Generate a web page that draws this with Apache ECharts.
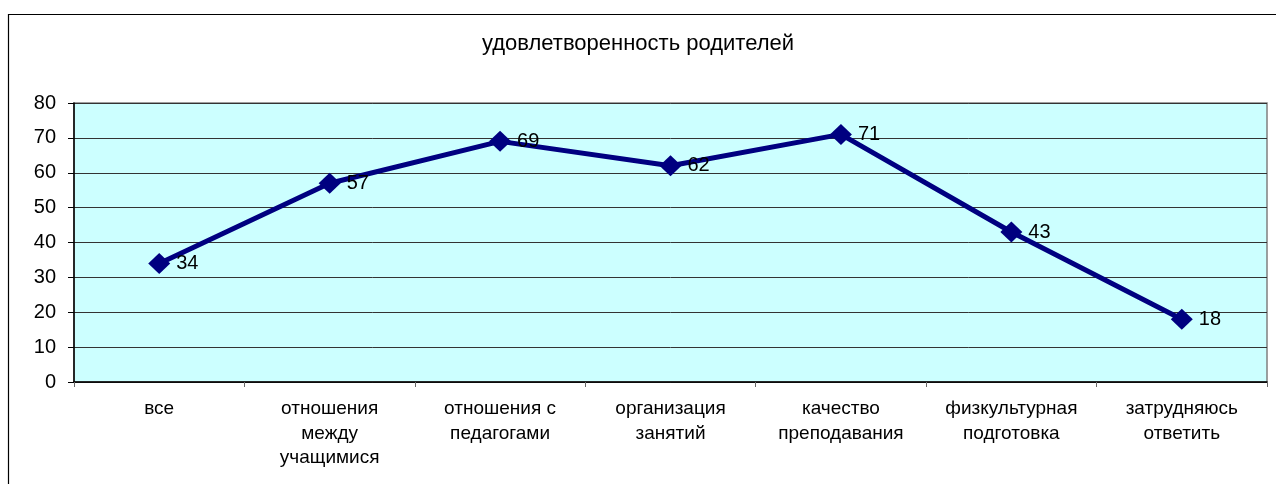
<!DOCTYPE html>
<html><head><meta charset="utf-8">
<script src="https://cdn.jsdelivr.net/npm/echarts@6/dist/echarts.min.js"></script>
<style>html,body{margin:0;padding:0;background:#fff;}#c{width:1276px;height:484px;}</style>
</head><body><div id="c"></div>
<script>
const titleText = 'удовлетворенность родителей';
const categories = ['все', 'отношения\nмежду\nучащимися', 'отношения с\nпедагогами', 'организация\nзанятий', 'качество\nпреподавания', 'физкультурная\nподготовка', 'затрудняюсь\nответить'];
const values = [34, 57, 69, 62, 71, 43, 18];
const yMin = 0, yMax = 80, yStep = 10;

const chart = echarts.init(document.getElementById('c'), null, {renderer: 'canvas'});
const font = 'Arial, "Liberation Sans", sans-serif';
chart.setOption({
  animation: false,
  backgroundColor: '#fff',
  title: {
    text: titleText, left: 'center', top: 28,
    textStyle: {fontFamily: font, fontSize: 22, fontWeight: 'normal', color: '#000'}
  },
  graphic: [{
    type: 'rect', shape: {x: 8.5, y: 14.5, width: 1300, height: 500},
    style: {fill: null, stroke: '#000', lineWidth: 1.2}, silent: true, z: -1
  }],
  grid: {
    left: 74, right: 9, top: 103, bottom: 102,
    show: true, backgroundColor: '#CCFFFF', borderColor: '#808080', borderWidth: 1.5
  },
  xAxis: {
    type: 'category', data: categories, boundaryGap: true,
    axisLine: {lineStyle: {color: '#000', width: 1.5}},
    axisTick: {show: true, length: 5, lineStyle: {color: '#666'}},
    axisLabel: {fontFamily: font, fontSize: 19, color: '#000', lineHeight: 24.5, margin: 15, interval: 0}
  },
  yAxis: {
    type: 'value', min: yMin, max: yMax, interval: yStep,
    axisLine: {show: true, lineStyle: {color: '#000', width: 1.5}},
    axisTick: {show: true, length: 6, lineStyle: {color: '#000'}},
    axisLabel: {fontFamily: font, fontSize: 20, color: '#000', margin: 18},
    splitLine: {show: true, lineStyle: {color: '#333', width: 1}}
  },
  series: [{
    type: 'line', data: values,
    symbol: 'diamond', symbolSize: [22, 21],
    lineStyle: {color: '#000080', width: 5},
    itemStyle: {color: '#000080'},
    label: {show: true, position: 'right', distance: 6, fontFamily: font, fontSize: 20, color: '#000'}
  }]
});
</script></body></html>
